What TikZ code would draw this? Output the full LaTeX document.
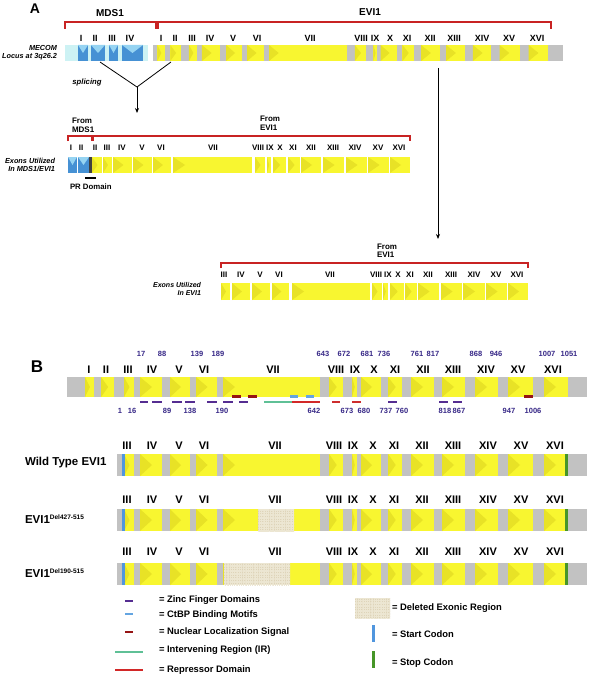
\documentclass[tikz,border=0pt]{standalone}
\usepackage{fontspec}
\setmainfont{Liberation Sans}
\usetikzlibrary{arrows.meta,patterns.meta}
\definecolor{yel}{RGB}{248,246,48}
\definecolor{yeld}{RGB}{232,226,38}
\definecolor{gry}{RGB}{194,194,194}
\definecolor{cyanbg}{RGB}{205,242,244}
\definecolor{blu}{RGB}{70,145,212}
\definecolor{blul}{RGB}{150,212,242}
\definecolor{redb}{RGB}{200,35,35}
\definecolor{navy}{RGB}{55,40,135}
\definecolor{zf}{RGB}{85,45,145}
\definecolor{ctbp}{RGB}{100,165,225}
\definecolor{nls}{RGB}{150,20,20}
\definecolor{nlsr}{RGB}{205,45,45}
\definecolor{ir}{RGB}{95,192,150}
\definecolor{rep}{RGB}{210,40,40}
\definecolor{delbg}{RGB}{222,212,185}
\definecolor{delln}{RGB}{236,230,210}
\definecolor{startc}{RGB}{80,150,222}
\definecolor{stopc}{RGB}{70,150,40}
\tikzset{
  every node/.style={inner sep=0pt, outer sep=0pt},
  labA/.style={font=\bfseries\fontsize{9}{9}\selectfont},
  labS/.style={font=\bfseries\fontsize{8}{8}\selectfont},
  labB/.style={font=\bfseries\fontsize{11}{11}\selectfont},
  num/.style={font=\bfseries\fontsize{7.5}{7.5}\selectfont, text=navy},
  side/.style={font=\bfseries\itshape\fontsize{7.3}{8.2}\selectfont, align=right, anchor=east},
  head/.style={font=\bfseries\fontsize{10}{10}\selectfont},
  leg/.style={font=\bfseries\fontsize{9.4}{9.4}\selectfont, anchor=west},
  brk/.style={draw=redb, line width=1.1pt},
  conn/.style={draw=black, line width=0.8pt},
  arr/.style={conn, -{Stealth[length=5pt,width=4pt]}},
  dom/.style={line width=2.2pt},
  delreg/.style={fill=delbg}
}
\newcommand{\exons}[3]{%
  \foreach \a/\b in #3 {%
    \fill[yel] (\a,#1) rectangle (\b,#2);
    \pgfmathsetmacro{\tw}{min(12,0.55*(\b-\a))}%
    \fill[yeld] (\a,#1) -- ({\a+\tw},{(#1+#2)/2}) -- (\a,#2) -- cycle;
  }}
\newcommand{\bex}[4]{%
  \fill[blu] (#1,#3) rectangle (#2,#4);
  \fill[blul] (#1,#3) -- (#2,#3) -- ({(#1+#2)/2},{#3+0.5*(#4-#3)}) -- cycle;}
\newcommand{\delbox}[4]{%
  \fill[delreg] (#1,#3) rectangle (#2,#4);
  \fill[pattern={Lines[angle=0,distance=1.6pt,line width=0.3pt]}, pattern color=delln] (#1,#3) rectangle (#2,#4);
  \fill[pattern={Lines[angle=90,distance=1.8pt,line width=0.3pt]}, pattern color=delln] (#1,#3) rectangle (#2,#4);}
\def\Blist{85/94,101/114,124/134,140/162,170/190,196/217,223/320,329/343,352/357,361/381,388/402,411/434,442/465,475/498,508/533,544/568}
\def\Wlist{124/134,140/162,170/190,196/217,223/320,329/343,352/357,361/381,388/402,411/434,442/465,475/498,508/533,544/568}
\def\Rtwo{92/102,103/112,113/132,133/152,153/171,173/252,255/265,267/271,273/286,288/300,301/321,323/344,346/367,368/389,390/410}
\def\Rthree{221/230,232/250,252/270,272/289,292/370,372/382,383/388,390/404,405/417,418/439,441/462,463/485,486/507,508/528}
\begin{document}
\begin{tikzpicture}[x=1pt,y=-1pt]
\useasboundingbox (0,0) rectangle (590,677);
\fill[white] (0,0) rectangle (590,677);

% ===================== Panel A =====================
\node[font=\bfseries\fontsize{14}{14}\selectfont] (pA) at (35,9) {A};

% row 1 brackets
\draw[brk] (65,29) -- (65,22) -- (156,22) -- (156,29);
\draw[brk] (158,29) -- (158,22) -- (551,22) -- (551,29);
\node[head] (hMDS) at (110,13) {MDS1};
\node[head] (hEVI) at (370,12) {EVI1};

% row 1 bar
\fill[cyanbg] (65,45) rectangle (148,61);
\bex{78}{88}{45}{61}
\bex{91}{105}{45}{61}
\bex{109}{118}{45}{61}
\bex{122}{143}{45}{61}
\begin{scope}[xshift=88.6pt, xscale=0.809]
  \fill[gry] (79,45) rectangle (587,61);
  \exons{45}{61}{\Blist}
\end{scope}
\foreach \x/\t [count=\k] in {81/I,95/II,112/III,130/IV}
  \node[labA] (am\k) at (\x,38) {\t};
\foreach \x/\t [count=\k] in {161/I,175/II,192/III,210/IV,233/V,257/VI,310/VII,361/VIII,375/IX,390/X,407/XI,430/XII,454/XIII,482/XIV,509/XV,537/XVI}
  \node[labA] (ae\k) at (\x,38) {\t};
\node[side] (sMecom) at (57,53) {MECOM\\Locus at 3q26.2};

% splicing
\coordinate (s1) at (100,62);
\coordinate (s2) at (171,62);
\coordinate (sm) at (137,87);
\coordinate (se) at (137,113);
\draw[conn] (s1) -- (sm) -- (s2);
\draw[arr] (sm) -- (se);
\node[font=\bfseries\itshape\fontsize{7.7}{7.7}\selectfont] (spl) at (87,83) {splicing};

% long arrow
\coordinate (l1) at (438,68);
\coordinate (l2) at (438,239);
\draw[arr] (l1) -- (l2);

% row 2
\node[font=\bfseries\fontsize{8}{9}\selectfont, align=left, anchor=west] (fM) at (72,125.5) {From\\MDS1};
\node[font=\bfseries\fontsize{8}{9}\selectfont, align=left, anchor=west] (fE) at (260,123.5) {From\\EVI1};
\draw[brk] (68,141) -- (68,136) -- (92,136) -- (92,141);
\draw[brk] (93,141) -- (93,136) -- (410,136) -- (410,141);
\bex{68}{77}{157}{173}
\bex{78}{89}{157}{173}
\fill[black!75] (89,157) rectangle (92,173);
\exons{157}{173}{\Rtwo}
\foreach \x/\t [count=\k] in {71/I,81/II,95/II,107/III,122/IV,142/V,161/VI,213/VII,258/VIII,270/IX,280/X,293/XI,311/XII,333/XIII,355/XIV,378/XV,399/XVI}
  \node[labS] (b\k) at (\x,148) {\t};
\draw[line width=1.6pt] (85,178) -- (96,178);
\node[font=\bfseries\fontsize{7.8}{7.8}\selectfont, anchor=west] (pr) at (70,187) {PR Domain};
\node[side] (sR2) at (55,165) {Exons Utilized\\In MDS1/EVI1};

% row 3
\node[font=\bfseries\fontsize{8}{8.5}\selectfont, align=left, anchor=west] (fE3) at (377,250.5) {From\\EVI1};
\draw[brk] (221,268) -- (221,263) -- (528,263) -- (528,268);
\exons{283}{300}{\Rthree}
\foreach \x/\t [count=\k] in {224/III,241/IV,260/V,279/VI,330/VII,376/VIII,388/IX,398/X,410/XI,428/XII,451/XIII,474/XIV,496/XV,517/XVI}
  \node[labS] (c\k) at (\x,275) {\t};
\node[side, font=\bfseries\itshape\fontsize{7}{8}\selectfont] (sR3) at (201,289) {Exons Utilized\\In EVI1};

% ===================== Panel B =====================
\node[font=\bfseries\fontsize{17}{17}\selectfont] (pB) at (37,367) {B};
\fill[gry] (67,377) rectangle (587,397);
\exons{377}{397}{\Blist}
\foreach \x/\t [count=\k] in {89/I,106/II,128/III,152/IV,179/V,204/VI,273/VII,336/VIII,355/IX,374/X,395/XI,423/XII,453/XIII,486/XIV,518/XV,553/XVI}
  \node[labB] (d\k) at (\x,370) {\t};
\foreach \x/\t [count=\k] in {141/17,162/88,197/139,218/189,323/643,344/672,367/681,384/736,417/761,433/817,476/868,496/946,547/1007,569/1051}
  \node[num] (nu\k) at (\x,354) {\t};
\foreach \x/\t [count=\k] in {120/1,132/16,167/89,190/138,222/190,314/642,347/673,364/680,386/737,402/760,445/818,459/867,509/947,533/1006}
  \node[num] (nd\k) at (\x,411) {\t};
% domains
\foreach \a/\b in {140/148,152/162,172/182,185/195,207/217,223/233,239/248,388/397,439/448,453/462}
  \draw[dom, zf] (\a,402) -- (\b,402);
\foreach \a/\b in {232/241,248/257,524/533}
  \draw[dom, nls] (\a,396.5) -- (\b,396.5);
\foreach \a/\b in {332/340,352/361}
  \draw[dom, nlsr] (\a,402) -- (\b,402);
\foreach \a/\b in {290/298,306/314}
  \draw[dom, ctbp] (\a,396.5) -- (\b,396.5);
\draw[dom, ir] (264,402) -- (292,402);
\draw[dom, rep] (292,402) -- (320,402);

% mutant / WT bars
\foreach \yl/\yt/\yb/\nm in {446/454/476/w, 500/509/531/p, 552/563/585/q}{
  \fill[gry] (117,\yt) rectangle (587,\yb);
  \exons{\yt}{\yb}{\Wlist}
  \fill[startc] (122,\yt) rectangle (125,\yb);
  \fill[stopc] (565,\yt) rectangle (568,\yb);
  \foreach \x/\t [count=\k] in {127/III,152/IV,179/V,204/VI,275/VII,334/VIII,353/IX,373/X,394/XI,422/XII,453/XIII,488/XIV,521/XV,555/XVI}
    \node[labB] (\nm\k) at (\x,\yl) {\t};
}
\delbox{258}{294}{509}{531}
\delbox{224}{290}{563}{585}

\node[font=\bfseries\fontsize{11.5}{11.5}\selectfont, anchor=west] (tw) at (25,463) {Wild Type EVI1};
\node[font=\bfseries\fontsize{11.5}{11.5}\selectfont, anchor=west] (tp) at (25,519) {EVI1\textsuperscript{\fontsize{6.5}{6.5}\selectfont Del427-515}};
\node[font=\bfseries\fontsize{11.5}{11.5}\selectfont, anchor=west] (tq) at (25,573) {EVI1\textsuperscript{\fontsize{6.5}{6.5}\selectfont Del190-515}};

% ===================== Legend =====================
\draw[dom, zf] (125,601) -- (133,601);
\draw[dom, ctbp] (125,614) -- (133,614);
\draw[dom, nls] (125,632) -- (133,632);
\draw[dom, ir] (115,652) -- (143,652);
\draw[dom, rep] (115,670) -- (143,670);
\node[leg] (g1) at (159,600) {= Zinc Finger Domains};
\node[leg] (g2) at (159,615) {= CtBP Binding Motifs};
\node[leg] (g3) at (159,632) {= Nuclear Localization Signal};
\node[leg] (g4) at (159,650) {= Intervening Region (IR)};
\node[leg] (g5) at (159,670) {= Repressor Domain};
\delbox{355}{390}{598}{618}
\fill[startc] (372,625) rectangle (375,642);
\fill[stopc] (372,651) rectangle (375,668);
\node[leg] (g6) at (392,608) {= Deleted Exonic Region};
\node[leg] (g7) at (392,634) {= Start Codon};
\node[leg] (g8) at (392,663) {= Stop Codon};
\end{tikzpicture}
\end{document}
